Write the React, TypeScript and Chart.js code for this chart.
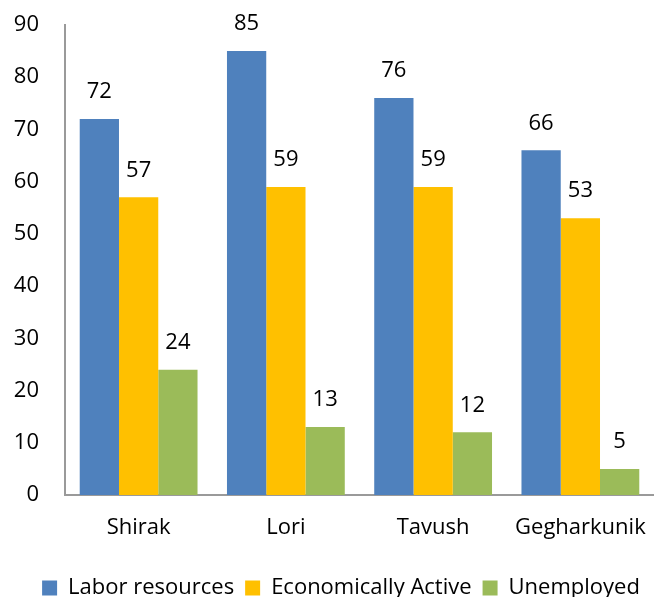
import React, { useEffect, useRef } from "react";
import { Chart, registerables } from "chart.js";

Chart.register(...registerables);

const categories = ["Shirak", "Lori", "Tavush", "Gegharkunik"];
const laborResources = [72, 85, 76, 66];
const economicallyActive = [57, 59, 59, 53];
const unemployed = [24, 13, 12, 5];
const seriesNames = ["Labor resources", "Economically Active", "Unemployed"];

const FONT = "'Open Sans', sans-serif";
const FS = 22;

const valueLabels = {
  id: "valueLabels",
  afterDatasetsDraw(chart: any) {
    const ctx = chart.ctx;
    ctx.save();
    ctx.font = `${FS}px ${FONT}`;
    ctx.fillStyle = "#000";
    ctx.textAlign = "center";
    ctx.textBaseline = "middle";
    chart.data.datasets.forEach((ds: any, i: number) => {
      const meta = chart.getDatasetMeta(i);
      meta.data.forEach((bar: any, j: number) => {
        ctx.fillText(String(ds.data[j]), bar.x, bar.y - 27);
      });
    });
    ctx.restore();
  },
};

const legendShift = {
  id: "legendShift",
  afterLayout(chart: any) {
    if (chart.legend) {
      chart.legend.left += 14;
      chart.legend.right += 14;
    }
  },
};

export default function App() {
  const ref = useRef<HTMLCanvasElement>(null);
  useEffect(() => {
    document.body.style.margin = "0";
    const chart = new Chart(ref.current!, {
      type: "bar",
      data: {
        labels: categories,
        datasets: [
          { label: seriesNames[0], data: laborResources, backgroundColor: "#4F81BD" },
          { label: seriesNames[1], data: economicallyActive, backgroundColor: "#FFC000" },
          { label: seriesNames[2], data: unemployed, backgroundColor: "#9BBB59" },
        ],
      },
      options: {
        animation: false,
        responsive: false,
        maintainAspectRatio: false,
        layout: { padding: { top: 25, right: 0, left: 0, bottom: -12 } },
        datasets: { bar: { categoryPercentage: 0.8, barPercentage: 1.0 } },
        plugins: {
          tooltip: { enabled: false },
          legend: {
            position: "bottom",
            labels: {
              boxWidth: 15,
              boxHeight: 15,
              padding: 11,
              color: "#000",
              font: { family: FONT, size: FS },
            },
          },
        },
        scales: {
          x: {
            grid: { display: false, drawTicks: false },
            border: { display: true, color: "#9a9a9a", width: 2 },
            ticks: { color: "#000", font: { family: FONT, size: FS }, padding: 20 },
            afterFit(scale: any) {
              scale.height = 71;
              scale.paddingLeft = 0;
              scale.paddingRight = 0;
            },
          },
          y: {
            min: 0,
            max: 90,
            grid: { display: false, drawTicks: false },
            border: { display: true, color: "#9a9a9a", width: 2 },
            ticks: { stepSize: 10, color: "#000", font: { family: FONT, size: FS }, padding: 26 },
            afterFit(scale: any) {
              scale.width = 65;
              scale.paddingTop = 0;
              scale.paddingBottom = 0;
            },
          },
        },
      },
      plugins: [valueLabels, legendShift],
    });
    return () => chart.destroy();
  }, []);
  return <canvas ref={ref} width={654} height={597} style={{ display: "block" }} />;
}
